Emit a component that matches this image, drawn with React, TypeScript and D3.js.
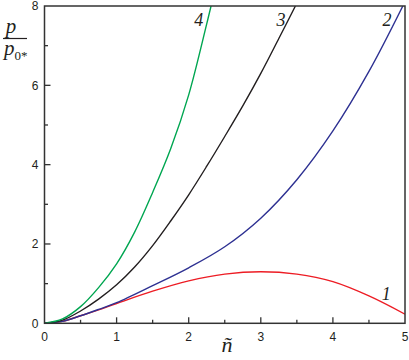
import { useEffect, useRef } from 'react';
import * as d3 from 'd3';

// curve 1 (red)
const n1 = [0, 0.25, 0.5, 0.75, 1, 1.5, 2, 2.5, 3, 3.5, 4, 4.5, 5];
const p1 = [0, 0.05, 0.19, 0.34, 0.5, 0.81, 1.07, 1.24, 1.3, 1.24, 1.05, 0.69, 0.23];
// curve 2 (blue)
const n2 = [0, 0.25, 0.5, 0.75, 1, 1.5, 2, 2.5, 3, 3.5, 4, 4.5, 4.97];
const p2 = [0, 0.05, 0.19, 0.35, 0.52, 0.95, 1.4, 1.93, 2.65, 3.62, 4.85, 6.35, 8.0];
// curve 3 (black)
const n3 = [0, 0.25, 0.5, 0.75, 1, 1.25, 1.5, 1.75, 2, 2.25, 2.5, 2.75, 3, 3.25, 3.48];
const p3 = [0, 0.08, 0.31, 0.61, 0.97, 1.42, 1.96, 2.58, 3.24, 3.96, 4.71, 5.48, 6.3, 7.18, 8.0];
// curve 4 (green)
const n4 = [0, 0.25, 0.5, 0.75, 1, 1.25, 1.5, 1.75, 2, 2.25, 2.31];
const p4 = [0, 0.11, 0.42, 0.9, 1.5, 2.3, 3.3, 4.4, 5.76, 7.55, 8.0];

const xTicks = [0, 1, 2, 3, 4, 5];
const yTicks = [0, 2, 4, 6, 8];

const series = [
  { n: n1, p: p1, color: '#ed1c24', label: '1' },
  { n: n2, p: p2, color: '#2e3192', label: '2' },
  { n: n3, p: p3, color: '#231f20', label: '3' },
  { n: n4, p: p4, color: '#00a651', label: '4' },
];

export default function App() {
  const ref = useRef<SVGSVGElement | null>(null);

  useEffect(() => {
    if (!ref.current) return;
    const svg = d3.select(ref.current);
    svg.selectAll('*').remove();

    const left = 44.5, right = 405, top = 6, bottom = 323.3;
    const x = d3.scaleLinear().domain([0, 5]).range([left, right]);
    const y = d3.scaleLinear().domain([0, 8]).range([bottom, top]);
    const axisColor = '#333';

    svg.append('defs').append('clipPath').attr('id', 'plot-clip')
      .append('rect')
      .attr('x', left).attr('y', top)
      .attr('width', right - left).attr('height', bottom - top);

    // curves
    const line = d3.line<[number, number]>()
      .x(d => x(d[0]))
      .y(d => y(d[1]))
      .curve(d3.curveCatmullRom.alpha(0.5));

    series.forEach(s => {
      const pts = s.n.map((v, i) => [v, s.p[i]] as [number, number]);
      svg.append('path')
        .attr('d', line(pts))
        .attr('fill', 'none')
        .attr('stroke', s.color)
        .attr('stroke-width', 1.4)
        .attr('clip-path', 'url(#plot-clip)');
    });

    // frame
    svg.append('rect')
      .attr('x', left).attr('y', top)
      .attr('width', right - left).attr('height', bottom - top)
      .attr('fill', 'none')
      .attr('stroke', axisColor)
      .attr('stroke-width', 1.5);

    // x ticks (inward), majors + half-step minors
    const xMinor = d3.range(0.5, 5, 1);
    svg.append('g').selectAll('line.xmaj')
      .data(xTicks.slice(1, -1)).enter().append('line')
      .attr('x1', d => x(d)).attr('x2', d => x(d))
      .attr('y1', bottom).attr('y2', bottom - 6)
      .attr('stroke', axisColor).attr('stroke-width', 1.3);
    svg.append('g').selectAll('line.xmin')
      .data(xMinor).enter().append('line')
      .attr('x1', d => x(d)).attr('x2', d => x(d))
      .attr('y1', bottom).attr('y2', bottom - 3.5)
      .attr('stroke', axisColor).attr('stroke-width', 1.3);

    // y ticks
    const yMinor = d3.range(1, 8, 2);
    svg.append('g').selectAll('line.ymaj')
      .data(yTicks.slice(1, -1)).enter().append('line')
      .attr('x1', left).attr('x2', left + 6)
      .attr('y1', d => y(d)).attr('y2', d => y(d))
      .attr('stroke', axisColor).attr('stroke-width', 1.3);
    svg.append('g').selectAll('line.ymin')
      .data(yMinor).enter().append('line')
      .attr('x1', left).attr('x2', left + 3.5)
      .attr('y1', d => y(d)).attr('y2', d => y(d))
      .attr('stroke', axisColor).attr('stroke-width', 1.3);

    // tick labels
    svg.append('g').selectAll('text')
      .data(xTicks).enter().append('text')
      .attr('x', d => x(d)).attr('y', 340.5)
      .attr('text-anchor', 'middle')
      .attr('font-family', '"Liberation Sans", Arial, sans-serif')
      .attr('font-size', 12)
      .attr('fill', '#231f20')
      .text(d => d);
    svg.append('g').selectAll('text')
      .data(yTicks).enter().append('text')
      .attr('x', 38.5).attr('y', d => y(d) + 4.3)
      .attr('text-anchor', 'end')
      .attr('font-family', '"Liberation Sans", Arial, sans-serif')
      .attr('font-size', 12)
      .attr('fill', '#231f20')
      .text(d => d);

    // curve labels
    const serif = '"Liberation Serif", "Times New Roman", serif';
    const labelPos: Record<string, [number, number]> = {
      '4': [2.14, 7.5], '3': [3.28, 7.5], '2': [4.75, 7.5], '1': [4.74, 0.58],
    };
    series.forEach(s => {
      const [ln, lp] = labelPos[s.label];
      svg.append('text')
        .attr('x', x(ln)).attr('y', y(lp))
        .attr('text-anchor', 'middle')
        .attr('font-family', serif)
        .attr('font-style', 'italic')
        .attr('font-size', 18)
        .attr('fill', '#231f20')
        .text(s.label);
    });

    // y axis label: p / p0*
    const yl = svg.append('g').attr('font-family', serif).attr('fill', '#231f20');
    yl.append('text').attr('x', 11).attr('y', 33)
      .attr('text-anchor', 'middle').attr('font-style', 'italic').attr('font-size', 21)
      .text('p');
    yl.append('line').attr('x1', 3).attr('x2', 27).attr('y1', 38.5).attr('y2', 38.5)
      .attr('stroke', '#231f20').attr('stroke-width', 1.2);
    const bottomText = yl.append('text').attr('x', 4).attr('y', 55);
    bottomText.append('tspan').attr('font-style', 'italic').attr('font-size', 21).text('p');
    bottomText.append('tspan').attr('font-size', 13).attr('dy', 5).text('0*');

    // x axis label: ñ
    svg.append('text')
      .attr('x', 227).attr('y', 352)
      .attr('text-anchor', 'middle')
      .attr('font-family', serif)
      .attr('font-style', 'italic')
      .attr('font-size', 22)
      .attr('fill', '#231f20')
      .text('\u00f1');
  }, []);

  return (
    <svg
      ref={ref}
      width={409}
      height={360}
      style={{ position: 'absolute', left: 0, top: 0, background: '#fff' }}
    />
  );
}
